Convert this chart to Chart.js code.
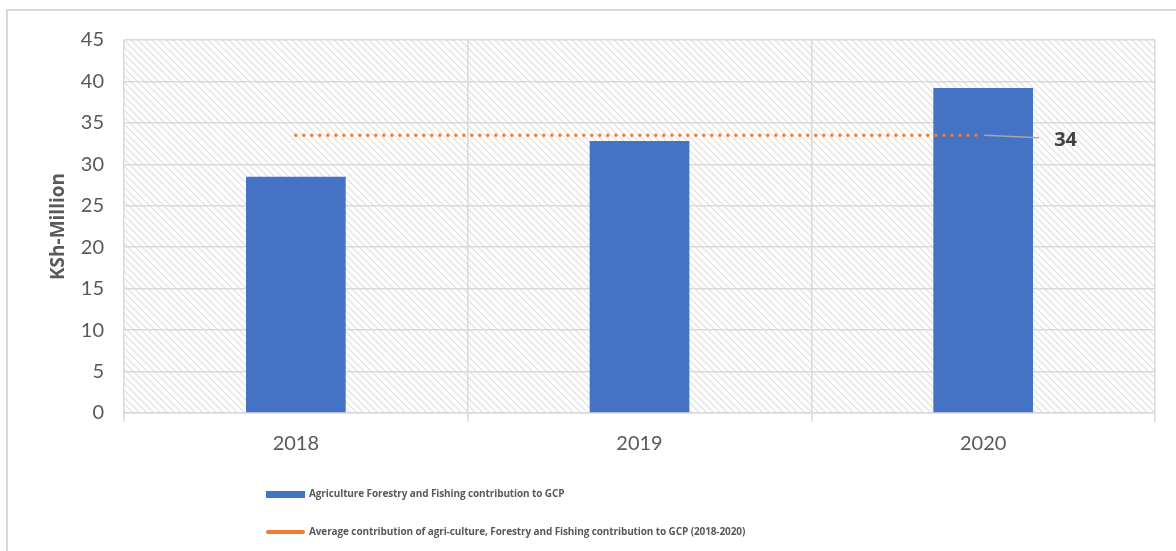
<!DOCTYPE html>
<html>
<head>
<meta charset="utf-8">
<style>
body { margin: 0; background: #fff; font-family: Lato, sans-serif; }
#frame {
    position: absolute; left: 6px; top: 9px; width: 1200px; height: 600px;
    border-left: 2px solid #d9d9d9; border-top: 2px solid #d9d9d9;
}
#wrap { position: absolute; left: 0; top: 0; width: 1176px; height: 551px; }
#legend { position: absolute; left: 266px; top: 484px; font: bold 10px "Open Sans", sans-serif; color: #595959; letter-spacing: -0.11px; }
#legend div { height: 19px; line-height: 19px; margin-bottom: 19px; white-space: nowrap; }
#legend span { display: inline-block; vertical-align: middle; margin-right: 4px; }
</style>
<title>GCP chart</title>
</head>
<body>
<script src="https://cdn.jsdelivr.net/npm/chart.js@4/dist/chart.umd.min.js"></script>
<div id="frame"></div>
<div id="wrap"><canvas id="gcp" width="1176" height="551"></canvas></div>
<div id="legend"></div>

<script>
// values
var years = ["2018", "2019", "2020"];
var agri = [28.5, 32.8, 39.2];
var average = [33.5, 33.5, 33.5];
var avgLabel = "34";

var labelA = "Agriculture Forestry and Fishing contribution to GCP";
var labelB = "Average contribution of agri-culture, Forestry and Fishing contribution to GCP (2018-2020)";

var grey = "#595959";

// diagonal hatch for the plot area
function hatch() {
    var c = document.createElement("canvas");
    c.width = 7; c.height = 7;
    var g = c.getContext("2d");
    g.strokeStyle = "#dedede";
    g.lineWidth = 1.2;
    g.beginPath();
    g.moveTo(-1, -1); g.lineTo(8, 8);
    g.moveTo(-1, 6); g.lineTo(1, 8);
    g.moveTo(6, -1); g.lineTo(8, 1);
    g.stroke();
    return g.createPattern(c, "repeat");
}

var bgPlugin = {
    id: "bg",
    beforeDraw: function(chart) {
        var a = chart.chartArea, ctx = chart.ctx;
        ctx.save();
        ctx.fillStyle = hatch();
        ctx.fillRect(a.left, a.top, a.right - a.left, a.bottom - a.top);
        ctx.restore();
    }
};

// "34" label with its leader line at the end of the average line
var avgPlugin = {
    id: "avglabel",
    afterDatasetsDraw: function(chart) {
        var meta = chart.getDatasetMeta(1);
        var p = meta.data[meta.data.length - 1];
        var ctx = chart.ctx;
        ctx.save();
        ctx.strokeStyle = "#a6a6a6";
        ctx.lineWidth = 1.5;
        ctx.beginPath();
        ctx.moveTo(p.x + 1, p.y);
        ctx.lineTo(p.x + 56, p.y + 2.5);
        ctx.stroke();
        ctx.fillStyle = "#404040";
        ctx.font = "bold 20px 'Open Sans'";
        ctx.textBaseline = "middle";
        ctx.fillText(avgLabel, p.x + 71, p.y + 5);
        ctx.restore();
    }
};

var ctx = document.getElementById("gcp");
var myChart = new Chart(ctx, {
    type: "bar",
    data: {
        labels: years,
        datasets: [
            {
                label: labelA,
                data: agri,
                backgroundColor: "#4472c4",
                categoryPercentage: 1,
                barPercentage: 0.29,
                order: 2
            },
            {
                type: "line",
                label: labelB,
                data: average,
                borderColor: "#ed7d31",
                borderWidth: 3.5,
                borderDash: [0, 8],
                borderCapStyle: "round",
                pointRadius: 0,
                fill: false,
                order: 1
            }
        ]
    },
    plugins: [bgPlugin, avgPlugin],
    options: {
        responsive: false,
        animation: false,
        layout: { padding: { left: 47, right: 21, top: 40, bottom: 88 } },
        plugins: { legend: { display: false }, tooltip: { enabled: false } },
        scales: {
            x: {
                grid: { color: "#d9d9d9", lineWidth: 1.5, tickLength: 9, offset: true },
                border: { color: "#d9d9d9", width: 1.5 },
                ticks: { color: grey, font: { family: "Lato", size: 20 }, padding: 10 },
                afterFit: function(s) { s.height = 50; }
            },
            y: {
                min: 0, max: 45,
                ticks: { stepSize: 5, color: grey, font: { family: "Lato", size: 20 }, padding: 20 },
                grid: { color: "#d9d9d9", lineWidth: 1.5, drawTicks: false },
                border: { display: false },
                title: { display: true, text: "KSh-Million", color: grey, font: { family: "Open Sans", size: 19, weight: "bold" }, padding: 0 },
                afterFit: function(s) { s.width = 77; }
            }
        }
    }
});

// legend under the chart, one item per row
var leg = document.getElementById("legend");
myChart.data.datasets.forEach(function(ds, i) {
    var row = document.createElement("div");
    var key = document.createElement("span");
    key.style.width = "39px";
    if (i == 0) {
        key.style.height = "7px";
        key.style.background = ds.backgroundColor;
    } else {
        key.style.height = "4px";
        key.style.borderRadius = "2px";
        key.style.background = ds.borderColor;
    }
    row.appendChild(key);
    row.appendChild(document.createTextNode(ds.label));
    leg.appendChild(row);
});
</script>
</body>
</html>
